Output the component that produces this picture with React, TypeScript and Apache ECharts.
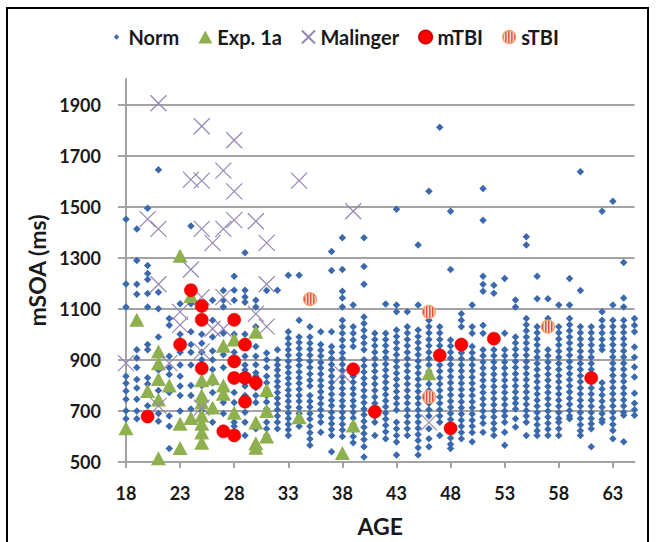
import React, { useEffect, useRef } from "react";
import * as echarts from "echarts";

const xTicks = [18, 23, 28, 33, 38, 43, 48, 53, 58, 63];
const yTicks = [500, 700, 900, 1100, 1300, 1500, 1700, 1900];

const normAges = [
  18, 19, 20, 21, 22, 23, 24, 25, 26, 27, 28, 29, 30, 31, 32, 33, 34, 35, 36, 37, 38, 39, 40, 41,
  42, 43, 44, 45, 46, 47, 48, 49, 50, 51, 52, 53, 54, 55, 56, 57, 58, 59, 60, 61, 62, 63, 64, 65,
];
const normValues: number[][] = [
  [1451, 1197, 1107, 836, 808, 778, 746, 701, 669],
  [1413, 1289, 1196, 1157, 940, 907, 870, 823, 790, 746, 700, 669],
  [1494, 1270, 1238, 1215, 1160, 1107, 960, 940, 830, 805, 720, 680],
  [1645, 1165, 1100, 990, 860, 780, 690, 660],
  [1062, 1036, 914, 869, 843, 772, 680, 640, 553],
  [1120, 1000, 975, 930, 880, 836, 798, 760, 700],
  [1424, 1120, 1010, 960, 930, 880, 800, 760, 708],
  [1000, 965, 930, 900, 800, 700],
  [1133, 1055, 990, 935, 900, 862, 810, 772, 700, 656],
  [1172, 1133, 1107, 1004, 920, 870, 733, 690],
  [1227, 1173, 1133, 1000, 930, 772, 733, 656, 640],
  [1320, 1173, 1146, 1126, 1000, 914, 880, 860, 798, 760, 695, 656, 604],
  [1133, 1107, 1030, 952, 914, 881, 850, 836, 791, 760, 733, 630],
  [1172, 927, 900, 870, 836, 810, 785, 760, 735, 708, 656, 630, 604],
  [1173, 940, 900, 880, 860, 838, 815, 795, 772, 750, 728, 705, 680, 656, 630],
  [1231, 1010, 985, 962, 940, 918, 895, 872, 850, 828, 805, 782, 760, 738, 715, 692, 670, 648, 626, 604],
  [1231, 1055, 990, 968, 945, 920, 900, 878, 852, 830, 808, 785, 760, 738, 712, 690, 665, 640],
  [1030, 990, 965, 942, 918, 895, 870, 845, 820, 798, 760, 738, 715, 690, 668, 640, 615, 590, 566],
  [1010, 960, 938, 915, 890, 868, 845, 820, 798, 775, 752, 728, 705, 680, 656, 617],
  [1324, 1250, 1010, 952, 930, 905, 882, 860, 836, 812, 790, 765, 742, 720, 695, 672, 650, 627, 604, 540],
  [1378, 1254, 1169, 1142, 1107, 1055, 1030, 1004, 978, 952, 928, 905, 882, 858, 835, 812, 788, 765, 740, 718, 695, 672, 648, 625, 600],
  [1115, 1030, 1004, 978, 952, 836, 812, 788, 765, 740, 718, 695, 672, 648, 625, 600, 575],
  [1378, 1266, 1196, 1068, 1042, 1016, 990, 965, 940, 900, 876, 852, 828, 805, 780, 756, 732, 708, 685, 660, 636, 612, 588, 560, 520],
  [1004, 980, 955, 930, 905, 880, 855, 830, 805, 780, 755, 730, 705, 680, 656, 604],
  [1119, 1004, 980, 956, 932, 908, 884, 860, 836, 812, 788, 764, 740, 716, 692, 668, 644, 618, 591],
  [1490, 1115, 1088, 1017, 992, 968, 944, 920, 896, 872, 848, 824, 800, 776, 752, 728, 704, 656, 630, 604, 578, 527],
  [1088, 1030, 1005, 980, 955, 930, 905, 880, 855, 830, 805, 780, 755, 730, 705, 680, 655, 630, 604],
  [1350, 1115, 1017, 992, 968, 944, 920, 896, 872, 848, 824, 800, 776, 752, 728, 704, 680, 656, 632, 608, 584, 556, 527],
  [1560, 1055, 1030, 1005, 980, 955, 930, 905, 880, 855, 830, 805, 780, 730, 705, 680, 630, 591, 560],
  [1811, 1030, 1005, 980, 955, 930, 905, 880, 855, 830, 805, 780, 755, 730, 705, 680, 656, 604],
  [1482, 1254, 978, 954, 930, 906, 882, 858, 834, 810, 786, 762, 738, 714, 690, 666, 642, 618, 594, 570, 553],
  [1081, 1055, 1030, 952, 928, 904, 880, 856, 832, 808, 784, 760, 736, 712, 688, 664, 640, 616, 591],
  [1115, 1030, 1004, 952, 928, 904, 880, 856, 832, 808, 784, 760, 736, 712, 688, 664, 640, 616, 579],
  [1571, 1447, 1227, 1196, 1169, 1036, 1004, 940, 916, 892, 868, 844, 820, 796, 772, 748, 724, 700, 676, 652, 617],
  [1192, 1161, 990, 940, 916, 892, 868, 844, 820, 796, 772, 748, 724, 700, 676, 652, 628, 604],
  [1219, 1004, 940, 916, 892, 868, 844, 820, 796, 772, 748, 724, 700, 680, 656, 617, 566],
  [1134, 1107, 990, 966, 942, 918, 894, 870, 846, 822, 798, 774, 750, 730, 708, 669, 637],
  [1382, 1350, 1062, 1038, 1014, 990, 966, 942, 918, 894, 870, 846, 822, 798, 774, 750, 726, 702, 680, 656, 604],
  [1227, 1139, 1030, 1006, 982, 958, 934, 910, 886, 862, 838, 814, 790, 766, 742, 718, 694, 670, 646, 622, 604],
  [1139, 1062, 940, 916, 892, 868, 844, 820, 796, 772, 748, 724, 700, 676, 652, 628, 604],
  [1115, 1030, 1006, 982, 958, 934, 910, 886, 862, 838, 814, 790, 766, 742, 718, 694, 670, 656, 630, 604],
  [1219, 1115, 1062, 1038, 1014, 990, 966, 942, 918, 894, 870, 846, 822, 798, 774, 750, 726, 702, 680, 669],
  [1637, 1172, 1030, 1006, 982, 958, 934, 910, 886, 862, 838, 814, 790, 766, 742, 718, 694, 670, 646, 622, 604],
  [1030, 1006, 982, 958, 934, 910, 886, 862, 838, 814, 790, 766, 742, 718, 694, 670, 650, 630, 560],
  [1482, 1088, 1055, 1030, 1005, 980, 955, 940, 810, 786, 762, 738, 714, 690, 666, 656],
  [1521, 1115, 1055, 1031, 1007, 983, 959, 935, 911, 887, 863, 839, 815, 791, 767, 743, 719, 695, 671, 647, 623, 591],
  [1281, 1142, 1107, 1055, 1031, 1007, 983, 959, 935, 911, 887, 863, 839, 815, 791, 767, 743, 719, 695, 683, 579],
  [1062, 1036, 1010, 950, 910, 872, 833, 769, 730, 705, 683],
];

const exp1a: [number, number][] = [
  [18, 632], [19, 1057], [21, 515], [21, 933], [21, 887], [21, 825], [20, 778], [22, 800], [21, 745],
  [23, 650], [23, 555], [23, 1308], [24, 672], [24, 1150], [25, 820], [25, 760], [25, 733], [25, 682],
  [25, 650], [25, 616], [25, 575], [26, 828], [26, 713], [27, 955], [27, 800], [27, 767], [28, 980],
  [28, 693], [30, 1010], [30, 655], [30, 573], [30, 556], [31, 782], [31, 700], [31, 600], [34, 675],
  [38, 535], [39, 643], [46, 848],
];

const malinger: [number, number][] = [
  [21, 1905], [25, 1815], [28, 1760], [27, 1641], [24, 1606], [25, 1602], [28, 1560], [34, 1602],
  [39, 1482], [20, 1451], [21, 1413], [25, 1413], [27, 1413], [28, 1447], [30, 1443], [26, 1358],
  [31, 1358], [24, 1254], [21, 1196], [31, 1196], [25, 1146], [27, 1146], [18, 887], [23, 1088],
  [23, 1037], [22, 887], [25, 933], [26, 1022], [27, 1022], [30, 1080], [31, 1030], [21, 720],
  [25, 713], [38, 844], [46, 655],
];

const mTBI: [number, number][] = [
  [20, 678], [23, 960], [24, 1173], [25, 1111], [25, 1057], [25, 867], [27, 620], [28, 1057],
  [28, 894], [28, 829], [28, 604], [29, 960], [29, 829], [29, 736], [30, 810], [39, 863], [41, 697],
  [47, 918], [48, 632], [49, 960], [52, 983], [61, 829],
];

const sTBI: [number, number][] = [
  [35, 1138], [46, 1088], [46, 755], [57, 1030],
];

const FONT = "Lato";
const TXT = "#1a1a1a";
const GRID_GRAY = "#a3a3a3";
const STBI_SIZE = 13;

function makeStripe() {
  const c = document.createElement("canvas");
  c.width = 6;
  c.height = 6;
  const ctx = c.getContext("2d");
  if (ctx) {
    ctx.fillStyle = "#fbe0cf";
    ctx.fillRect(0, 0, 6, 6);
    ctx.fillStyle = "#de4a3c";
    ctx.fillRect(0, 0, 3, 6);
  }
  return c;
}

export default function App() {
  const ref = useRef<HTMLDivElement>(null);
  useEffect(() => {
    if (!ref.current) return;
    const chart = echarts.init(ref.current, undefined, { renderer: "svg" });
    const normData: [number, number][] = [];
    normAges.forEach((a, i) => {
      normValues[i].forEach((v) => normData.push([a, v]));
    });
    const stripe = makeStripe();
    const seriesScale = 0.5 / (STBI_SIZE / 2);
    const labelStyle = {
      fontFamily: FONT,
      fontWeight: "bold",
      fontSize: 18,
      color: TXT,
      formatter: (v: number) => String(v),
    };
    chart.setOption({
      animation: false,
      backgroundColor: "#ffffff",
      graphic: [
        {
          type: "rect",
          shape: { x: 7, y: 8, width: 641, height: 600 },
          style: { fill: "none", stroke: "#000000", lineWidth: 2 },
          silent: true,
        },
      ],
      legend: {
        left: 105,
        top: 22,
        itemWidth: 14,
        itemHeight: 13,
        itemGap: 19,
        selectedMode: false,
        textStyle: { fontFamily: FONT, fontWeight: "bold", fontSize: 20, color: TXT },
        data: [
          { name: "Norm", icon: "path://M0,0M12,12M6,3.5L8.5,6L6,8.5L3.5,6Z" },
          { name: "Exp. 1a", icon: "triangle" },
          { name: "Malinger", icon: "path://M0,0L10,10M10,0L0,10" },
          { name: "mTBI", icon: "circle" },
          {
            name: "sTBI",
            icon: "circle",
            itemStyle: {
              color: { image: stripe, repeat: "repeat", scaleX: 0.5, scaleY: 0.5 },
              borderColor: "#f2a064",
              borderWidth: 1.2,
            },
          },
        ],
      },
      grid: { left: 126, right: 22.5, top: 79, bottom: 75, containLabel: false },
      xAxis: {
        type: "value",
        min: 18,
        max: 65,
        name: "AGE",
        nameLocation: "middle",
        nameGap: 52,
        nameTextStyle: { fontFamily: FONT, fontWeight: "bold", fontSize: 23, color: TXT },
        axisLine: { show: true, lineStyle: { color: GRID_GRAY, width: 2 } },
        axisTick: { show: true, length: 6, customValues: xTicks, lineStyle: { color: GRID_GRAY, width: 2 } },
        axisLabel: { customValues: xTicks, margin: 22, ...labelStyle },
        splitLine: { show: false },
      },
      yAxis: {
        type: "value",
        min: 500,
        max: 2000,
        name: "mSOA (ms)",
        nameLocation: "middle",
        nameGap: 71,
        nameTextStyle: { fontFamily: FONT, fontWeight: "bold", fontSize: 23, color: TXT },
        axisLine: { show: true, lineStyle: { color: GRID_GRAY, width: 2 } },
        axisTick: { show: true, length: 8, customValues: yTicks, lineStyle: { color: GRID_GRAY, width: 2 } },
        axisLabel: { customValues: yTicks, margin: 25, ...labelStyle },
        splitLine: { show: true, lineStyle: { color: GRID_GRAY, width: 2 } },
      },
      series: [
        {
          name: "Norm",
          type: "scatter",
          symbol: "diamond",
          symbolSize: 7.5,
          itemStyle: { color: "#3a69ad", opacity: 1 },
          data: normData,
        },
        {
          name: "Exp. 1a",
          type: "scatter",
          symbol: "triangle",
          symbolSize: [15, 14],
          itemStyle: { color: "#8fb04f", opacity: 1 },
          data: exp1a,
        },
        {
          name: "Malinger",
          type: "scatter",
          symbol: "path://M0,0L10,10M10,0L0,10",
          symbolSize: 16,
          itemStyle: { color: "transparent", borderColor: "#9586b5", borderWidth: 1.2, opacity: 1 },
          data: malinger,
        },
        {
          name: "mTBI",
          type: "scatter",
          symbol: "circle",
          symbolSize: 13,
          itemStyle: { color: "#ff0000", borderColor: "#d40000", borderWidth: 0.6, opacity: 1 },
          data: mTBI,
        },
        {
          name: "sTBI",
          type: "scatter",
          symbol: "circle",
          symbolSize: STBI_SIZE,
          itemStyle: {
            color: { image: stripe, repeat: "repeat", scaleX: seriesScale, scaleY: seriesScale },
            borderColor: "#f2a064",
            borderWidth: 1.2,
            opacity: 1,
          },
          data: sTBI,
        },
      ],
    });
    return () => chart.dispose();
  }, []);
  return (
    <div
      ref={ref}
      style={{ position: "fixed", left: 0, top: 0, width: 657, height: 542, background: "#fff" }}
    />
  );
}
